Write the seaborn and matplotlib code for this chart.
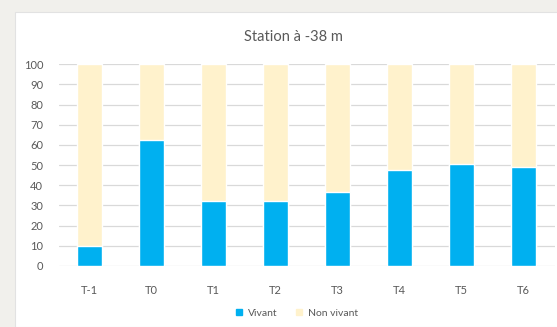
import seaborn as sns
import matplotlib.pyplot as plt
import pandas as pd
from matplotlib.patches import Rectangle
from matplotlib.lines import Line2D

periods = ['T-1', 'T0', 'T1', 'T2', 'T3', 'T4', 'T5', 'T6']
vivant = [10, 62.5, 32, 32, 36.5, 47.5, 50.5, 49]
non_vivant = [100 - v for v in vivant]

df = pd.DataFrame({'periode': periods, 'vivant': vivant, 'non_vivant': non_vivant})
df['total'] = df['vivant'] + df['non_vivant']

sns.set_theme(style="white")
plt.rcParams['font.family'] = ['Lato', 'DejaVu Sans']

blue = '#00b0f0'
beige = '#fff2cc'
grey_txt = '#595959'

fig = plt.figure(figsize=(5.57, 3.27), dpi=100)
fig.patch.set_facecolor('#f1f0ec')
fig.patches.append(Rectangle((15 / 557, 0), 1, (327 - 12) / 327, transform=fig.transFigure,
                             facecolor='white', edgecolor='#e2e2e2', lw=0.8, zorder=-5))

ax = fig.add_axes([58.5 / 557, (327 - 266) / 327, 496 / 557, 201.7 / 327])
ax.set_facecolor('none')
sns.barplot(data=df, x='periode', y='total', color=beige, width=0.4, saturation=1, ax=ax, zorder=2)
sns.barplot(data=df, x='periode', y='vivant', color=blue, width=0.4, saturation=1, ax=ax, zorder=3)

ax.set_ylim(0, 100)
ax.set_yticks(range(0, 101, 10))
ax.yaxis.grid(True, color='#d9d9d9', lw=0.9, zorder=0)
ax.set_axisbelow(True)
for s in ax.spines.values():
    s.set_visible(False)
ax.set_xlabel('')
ax.set_ylabel('')
ax.tick_params(axis='both', length=0, labelsize=8, colors=grey_txt)
ax.tick_params(axis='x', pad=14)
ax.tick_params(axis='y', pad=11)

fig.text(293 / 557, 1 - 37 / 327, 'Station à -38 m', ha='center', va='center',
         fontsize=10.5, color=grey_txt)

handles = [Line2D([], [], marker='s', ls='', color=blue, markersize=5),
           Line2D([], [], marker='s', ls='', color=beige, markersize=5)]
fig.legend(handles, ['Vivant', 'Non vivant'], loc='center', bbox_to_anchor=(296 / 557, 1 - 313 / 327),
           ncol=2, frameon=False, fontsize=7.5, labelcolor=grey_txt, handletextpad=0.3,
           columnspacing=1.6, handlelength=1)

fig.savefig('out.png', dpi=100, facecolor=fig.get_facecolor())
